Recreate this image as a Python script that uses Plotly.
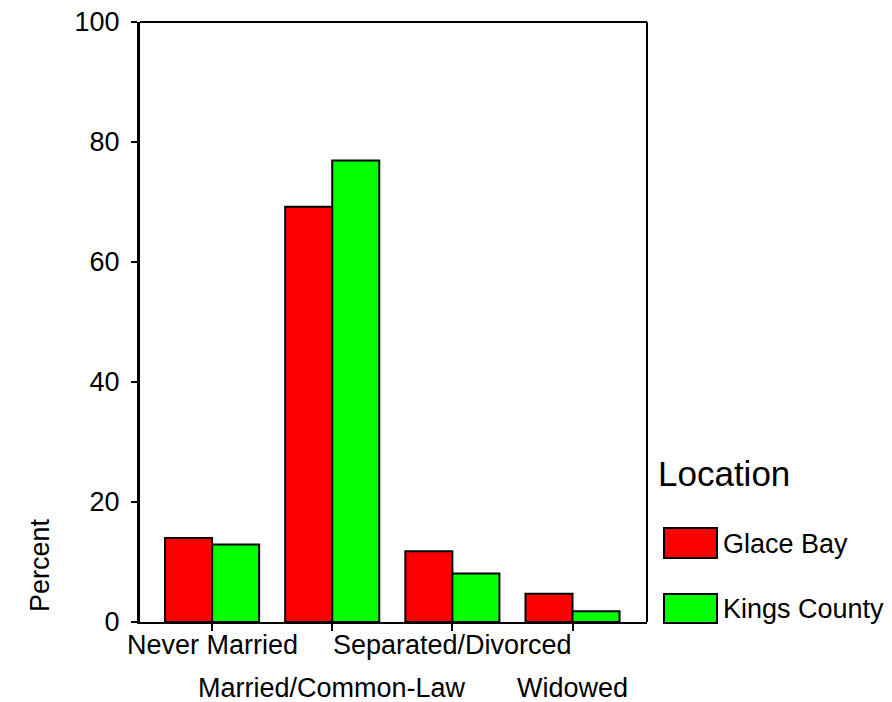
import plotly.graph_objects as go

categories = ["Never Married", "Married/Common-Law", "Separated/Divorced", "Widowed"]
series_names = ["Glace Bay", "Kings County"]
glace_bay = [14.0, 69.2, 11.8, 4.7]
kings_county = [12.9, 76.9, 8.1, 1.8]
y_ticks = [0, 20, 40, 60, 80, 100]
colors = ["#FF0000", "#00FF00"]

OFF = 8  # page body margin
W, H = 892 - OFF, 702 - OFF
L, R, T, B = 140, 647, 22, 622  # plot area in screen pixels
FONT = "Arial, Liberation Sans, sans-serif"

def px_x(p):
    return (p - L) / (R - L)

def px_y(p):
    return (B - p) / (B - T)

xs = list(range(len(categories)))
fig = go.Figure()
for name, vals, col in zip(series_names, [glace_bay, kings_county], colors):
    fig.add_trace(go.Bar(
        x=xs, y=vals, name=name,
        marker=dict(color=col, line=dict(color="black", width=2)),
        showlegend=False,
    ))

annotations = []
for i, c in enumerate(categories):
    row_y = 645 if i % 2 == 0 else 688
    annotations.append(dict(
        x=i, xref="x", y=px_y(row_y), yref="paper", text=c, showarrow=False,
        xanchor="center", yanchor="middle", font=dict(family=FONT, size=27, color="black"),
    ))
annotations.append(dict(
    x=px_x(40), xref="paper", y=px_y(565), yref="paper", text="Percent", textangle=-90,
    showarrow=False, xanchor="center", yanchor="middle",
    font=dict(family=FONT, size=27, color="black"),
))
annotations.append(dict(
    x=px_x(656), xref="paper", y=px_y(473), yref="paper", text="Location", showarrow=False,
    xanchor="left", yanchor="middle", font=dict(family=FONT, size=35, color="black"),
))
shapes = []
sw = [(528, 558, 544), (594, 623, 609)]
for (y0, y1, yc), name, col in zip(sw, series_names, colors):
    shapes.append(dict(type="rect", xref="paper", yref="paper",
                       x0=px_x(664), x1=px_x(717), y0=px_y(y1), y1=px_y(y0),
                       fillcolor=col, line=dict(color="black", width=2)))
    annotations.append(dict(
        x=px_x(721), xref="paper", y=px_y(yc), yref="paper", text=name, showarrow=False,
        xanchor="left", yanchor="middle", font=dict(family=FONT, size=27, color="black"),
    ))
shapes.append(dict(type="line", xref="paper", yref="paper", x0=0, x1=1, y0=1, y1=1,
                   line=dict(color="black", width=2)))
shapes.append(dict(type="line", xref="paper", yref="paper", x0=1, x1=1, y0=0, y1=1,
                   line=dict(color="black", width=2)))

fig.update_layout(
    width=W, height=H,
    margin=dict(l=L - OFF, r=892 - R, t=T - OFF, b=702 - B, pad=0, autoexpand=False),
    paper_bgcolor="white", plot_bgcolor="white",
    barmode="group", bargap=0.217, bargroupgap=0,
    annotations=annotations, shapes=shapes,
    font=dict(family=FONT, color="black"),
)
fig.update_xaxes(
    range=[-0.6, 3.62], tickvals=xs, ticktext=[""] * len(xs),
    ticks="outside", ticklen=7, tickwidth=2, tickcolor="black", automargin=False,
    showline=True, linecolor="black", linewidth=2, showgrid=False, zeroline=False,
)
fig.update_yaxes(
    range=[0, 100], tickvals=y_ticks, ticktext=[str(v) for v in y_ticks],
    ticks="outside", ticklen=6, tickwidth=2, tickcolor="black", automargin=False,
    showline=True, linecolor="black", linewidth=3, showgrid=False, zeroline=False,
    tickfont=dict(family=FONT, size=27, color="black"), ticklabelstandoff=6,
    ticklabeloverflow="allow",
)
fig.write_html("out.html")
